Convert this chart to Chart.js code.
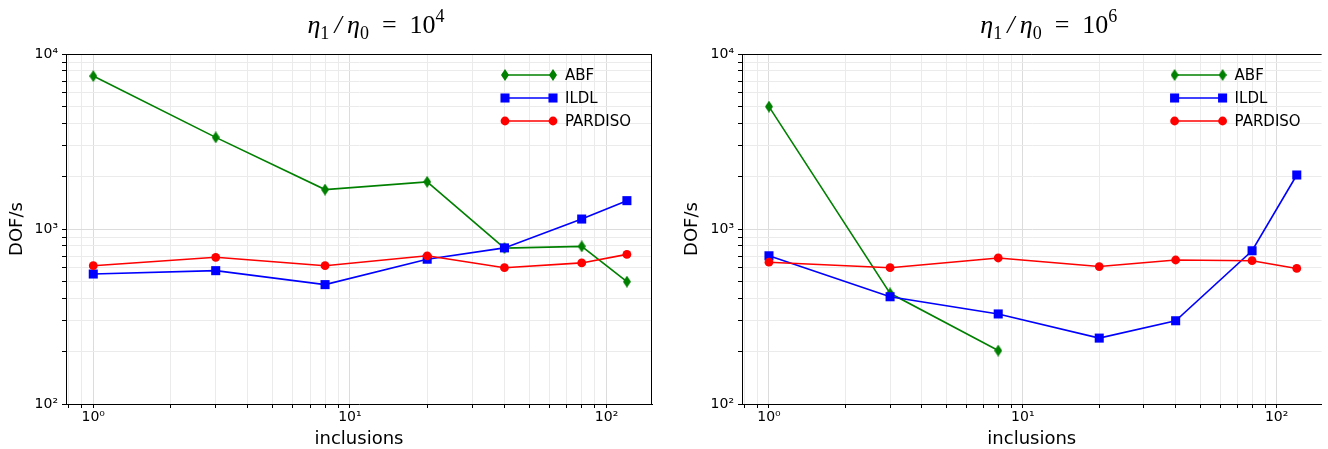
<!DOCTYPE html>
<html>
<head>
<meta charset="utf-8">
<script src="https://cdn.jsdelivr.net/npm/chart.js@4"></script>
<style>
  html, body { margin: 0; padding: 0; background: #fff; }
  #wrap { position: relative; width: 1328px; height: 449px; overflow: hidden; }
  canvas { position: absolute; top: 0; }
  #c1 { left: 0; }
  #c2 { left: 664px; }
</style>
</head>
<body>
<div id="wrap">
  <canvas id="c1" width="664" height="449"></canvas>
  <canvas id="c2" width="664" height="449"></canvas>
</div>
<script>
// ---- data ----
const inclusions = [1, 3, 8, 20, 40, 80, 120];
const seriesNames = ['ABF', 'ILDL', 'PARDISO'];
const seriesColors = ['#008000', '#0000ff', '#ff0000'];

const abf_1e4     = [7480, 3340, 1680, 1860, 778, 796, 500];
const ildl_1e4    = [553, 578, 481, 672, 780, 1140, 1452];
const pardiso_1e4 = [617, 689, 617, 703, 601, 640, 716];

const abf_1e6     = [5000, 429, 202];
const ildl_1e6    = [703, 410, 327, 238, 299, 751, 2035];
const pardiso_1e6 = [646, 601, 683, 610, 665, 659, 595];

const titleExp = ['4', '6'];
const xTitle = 'inclusions';
const yTitle = 'DOF/s';
const xRange = [0.783, 150.3];
const yRange = [100, 10000];

// ---- helpers ----
const SUP = {'-':'⁻','0':'⁰','1':'¹','2':'²','3':'³','4':'⁴','5':'⁵','6':'⁶','7':'⁷','8':'⁸','9':'⁹'};
function isPow10(v) { const l = Math.log10(v); return Math.abs(l - Math.round(l)) < 1e-9; }
function fmtTick(v) {
  if (!isPow10(v)) return '';
  const e = String(Math.round(Math.log10(v)));
  return '10' + e.split('').map(c => SUP[c]).join('');
}
function logTicks(min, max) {
  const t = [];
  for (let e = Math.floor(Math.log10(min)); e <= Math.ceil(Math.log10(max)); e++) {
    for (let m = 1; m < 10; m++) {
      const v = +(m * Math.pow(10, e)).toPrecision(8);
      if (v >= min - 1e-9 && v <= max + 1e-9) t.push({ value: v, major: m === 1 });
    }
  }
  return t;
}
function thinDiamond(w, h, color) {
  const c = document.createElement('canvas');
  c.width = w; c.height = h;
  const g = c.getContext('2d');
  g.fillStyle = color;
  g.beginPath();
  g.moveTo(w / 2, 0); g.lineTo(w, h / 2); g.lineTo(w / 2, h); g.lineTo(0, h / 2);
  g.closePath(); g.fill();
  return c;
}
const diamondImg = thinDiamond(8, 12, seriesColors[0]);
const pointStyles = [diamondImg, 'rect', 'circle'];
const pointRadii = [6, 6.4, 4.4];

function makeDatasets(lists) {
  return lists.map((vals, i) => ({
    label: seriesNames[i],
    data: vals.map((y, k) => ({ x: inclusions[k], y })),
    borderColor: seriesColors[i],
    backgroundColor: seriesColors[i],
    pointBackgroundColor: seriesColors[i],
    pointBorderColor: seriesColors[i],
    pointBorderWidth: 0,
    borderWidth: 1.6,
    pointStyle: pointStyles[i],
    pointRadius: pointRadii[i],
    order: 3 - i,
    tension: 0,
    clip: false
  }));
}

const frameTitlePlugin = {
  id: 'frameTitle',
  afterDraw(chart, args, opts) {
    const ctx = chart.ctx, a = chart.chartArea;
    ctx.save();
    // top & right spines
    ctx.strokeStyle = '#000';
    ctx.lineWidth = 1;
    ctx.beginPath();
    const t = Math.round(a.top) + 0.5, r = Math.round(a.right) - 0.5;
    ctx.moveTo(a.left, t); ctx.lineTo(a.right, t);
    if (opts.rightSpine) { ctx.moveTo(r, t); ctx.lineTo(r, a.bottom); }
    ctx.stroke();

    // legend
    const entries = chart.data.datasets;
    const x0 = a.right - 147, x1 = a.right - 99, xt = a.right - 87;
    const rows = [75, 98, 121];
    ctx.font = '15px "DejaVu Sans"';
    ctx.textBaseline = 'middle';
    ctx.textAlign = 'left';
    entries.forEach((d, i) => {
      const y = rows[i];
      ctx.strokeStyle = d.borderColor;
      ctx.lineWidth = 1.6;
      ctx.beginPath(); ctx.moveTo(x0, y); ctx.lineTo(x1, y); ctx.stroke();
      [x0, x1].forEach(px => {
        ctx.fillStyle = d.borderColor;
        if (i === 0) {
          ctx.drawImage(diamondImg, px - diamondImg.width / 2, y - diamondImg.height / 2);
        } else if (i === 1) {
          const s = pointRadii[1] * Math.SQRT1_2;
          ctx.fillRect(px - s, y - s, 2 * s, 2 * s);
        } else {
          ctx.beginPath(); ctx.arc(px, y, pointRadii[2], 0, Math.PI * 2); ctx.fill();
        }
      });
      ctx.fillStyle = '#000';
      ctx.fillText(d.label, xt, y + 1);
    });

    // title: eta_1 / eta_0 = 10^k
    const big = '26px "Liberation Serif"', bigI = 'italic 26px "Liberation Serif"', small = '18px "Liberation Serif"';
    const parts = [
      { t: 'η', f: bigI, dy: 0 },
      { t: '1', f: small, dy: 6 },
      { t: '\u2009/\u2009', f: bigI, dy: 0 },
      { t: 'η', f: bigI, dy: 0 },
      { t: '0', f: small, dy: 6 },
      { t: '\u2002=\u2002', f: big, dy: 0 },
      { t: '10', f: big, dy: 0 },
      { t: opts.exp, f: small, dy: -11 }
    ];
    ctx.textBaseline = 'alphabetic';
    let total = 0;
    parts.forEach(p => { ctx.font = p.f; p.w = ctx.measureText(p.t).width; total += p.w; });
    let x = (a.left + a.right) / 2 + opts.dx - total / 2;
    const base = 33;
    ctx.fillStyle = '#000';
    parts.forEach(p => { ctx.font = p.f; ctx.fillText(p.t, x, base + p.dy); x += p.w; });
    ctx.restore();
  }
};

function makeChart(id, lists, exp, yAxisWidth, padRight, yTitlePad, dx, rightSpine) {
  const gridColor = ctx => (ctx.tick && isPow10(ctx.tick.value)) ? '#dcdcdc' : '#ebebeb';
  return new Chart(document.getElementById(id), {
    type: 'line',
    data: { datasets: makeDatasets(lists) },
    plugins: [frameTitlePlugin],
    options: {
      responsive: false,
      animation: false,
      devicePixelRatio: 1,
      layout: { padding: { left: 0, top: 54, right: padRight, bottom: 0 } },
      plugins: {
        legend: { display: false },
        tooltip: { enabled: false },
        frameTitle: { exp, dx, rightSpine }
      },
      scales: {
        x: {
          type: 'logarithmic',
          position: 'bottom',
          min: xRange[0], max: xRange[1],
          afterBuildTicks: s => { s.ticks = logTicks(xRange[0], xRange[1]); },
          afterFit: s => { s.height = 45; },
          ticks: {
            autoSkip: false, maxRotation: 0, minRotation: 0,
            callback: v => fmtTick(v),
            font: { family: 'DejaVu Sans', size: 14 }, color: '#000', padding: 1
          },
          grid: { color: gridColor, tickColor: '#000', tickLength: 4, lineWidth: 1 },
          border: { display: true, color: '#000', width: 1 },
          title: { display: true, text: xTitle, font: { family: 'DejaVu Sans', size: 18 }, color: '#000', padding: { top: 0, bottom: -1 } }
        },
        y: {
          type: 'logarithmic',
          position: 'left',
          min: yRange[0], max: yRange[1],
          afterBuildTicks: s => { s.ticks = logTicks(yRange[0], yRange[1]); },
          afterFit: s => { s.width = yAxisWidth; },
          ticks: {
            autoSkip: false,
            callback: v => fmtTick(v),
            font: { family: 'DejaVu Sans', size: 14 }, color: '#000', padding: 4
          },
          grid: { color: gridColor, tickColor: '#000', tickLength: 4, lineWidth: 1 },
          border: { display: true, color: '#000', width: 1 },
          title: { display: true, text: yTitle, font: { family: 'DejaVu Sans', size: 18 }, color: '#000', padding: { top: yTitlePad, bottom: 0 } }
        }
      }
    }
  });
}

makeChart('c1', [abf_1e4, ildl_1e4, pardiso_1e4], titleExp[0], 66, 12, 7, 17, true);
makeChart('c2', [abf_1e6, ildl_1e6, pardiso_1e6], titleExp[1], 78, 0, 18, 17, false);
</script>
</body>
</html>
